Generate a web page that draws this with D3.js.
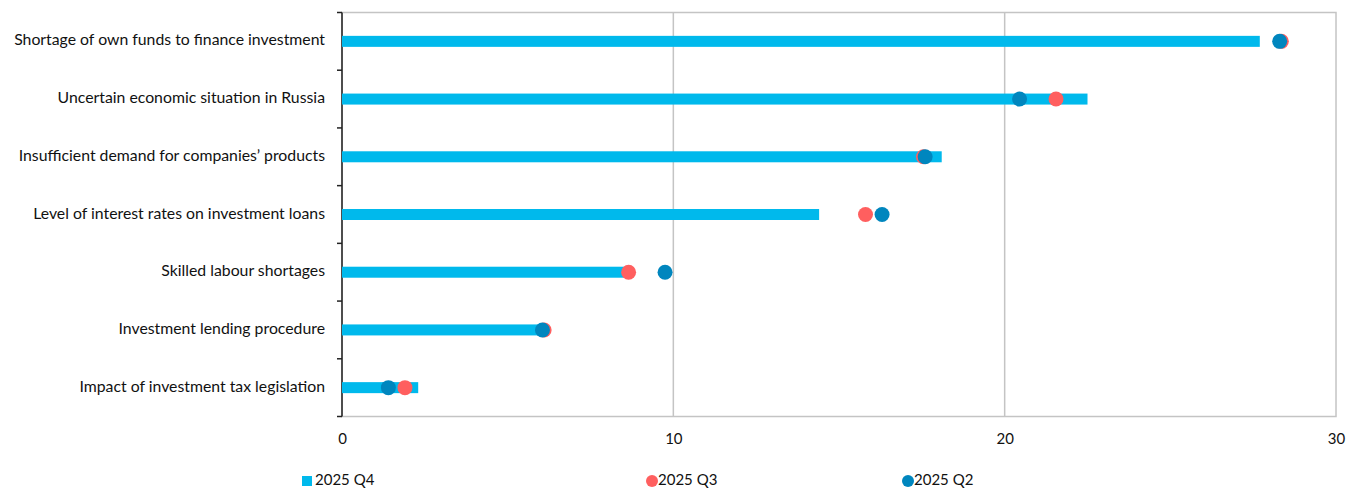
<!DOCTYPE html>
<html>
<head>
<meta charset="utf-8">
<script src="https://cdn.jsdelivr.net/npm/d3@7/dist/d3.min.js"></script>
<style>
  html, body { margin: 0; padding: 0; background: #fff; }
  svg { display: block; font-family: Lato, "Noto Sans", sans-serif; }
</style>
</head>
<body>
<svg id="chart" width="1351" height="495"></svg>
<script>
// Factors limiting investment activity, share of respondents (%)
const categories = [
  "Shortage of own funds to finance investment",
  "Uncertain economic situation in Russia",
  "Insufficient demand for companies\u2019 products",
  "Level of interest rates on investment loans",
  "Skilled labour shortages",
  "Investment lending procedure",
  "Impact of investment tax legislation"
];
const q4 = [27.7, 22.5, 18.1, 14.4, 8.6, 6.2, 2.3];
const q3 = [28.35, 21.55, 17.55, 15.8, 8.65, 6.1, 1.9];
const q2 = [28.3, 20.45, 17.6, 16.3, 9.75, 6.05, 1.4];
const xTicks = [0, 10, 20, 30];

const colors = { q4: "#00B9EC", q3: "#FF5F5F", q2: "#0086BE" };

const svg = d3.select("#chart");
const margin = { left: 342, right: 15, top: 12.5, bottom: 78.5 };
const W = 1351, H = 495;
const x = d3.scaleLinear().domain([0, 30]).range([margin.left, W - margin.right]);
const y = d3.scaleBand().domain(categories).range([margin.top, H - margin.bottom]);

// Plot frame and vertical gridlines
svg.append("rect")
  .attr("x", x(0)).attr("y", margin.top)
  .attr("width", x(30) - x(0)).attr("height", y.range()[1] - margin.top)
  .attr("fill", "none").attr("stroke", "#c4c4c4").attr("stroke-width", 1.5);

svg.append("g").selectAll("line").data(xTicks.slice(1, -1)).join("line")
  .attr("x1", d => x(d)).attr("x2", d => x(d))
  .attr("y1", margin.top).attr("y2", y.range()[1])
  .attr("stroke", "#c4c4c4").attr("stroke-width", 1.5);

// X axis labels
const xAxis = svg.append("g")
  .attr("transform", `translate(0,${y.range()[1]})`)
  .call(d3.axisBottom(x).tickValues(xTicks).tickSize(0).tickPadding(17));
xAxis.select(".domain").remove();
xAxis.selectAll("text").attr("font-size", 15).attr("fill", "#111")
  .attr("font-family", "Lato, 'Noto Sans', sans-serif");

// Y axis with tick marks between categories
const yAxis = svg.append("g").attr("transform", `translate(${x(0)},0)`);
yAxis.append("line")
  .attr("x1", 0).attr("x2", 0).attr("y1", margin.top).attr("y2", y.range()[1])
  .attr("stroke", "#222").attr("stroke-width", 1.5);
const boundaries = categories.map(c => y(c)).concat([y.range()[1]]);
yAxis.selectAll("line.tk").data(boundaries).join("line").attr("class", "tk")
  .attr("x1", -5).attr("x2", 0).attr("y1", d => d).attr("y2", d => d)
  .attr("stroke", "#222").attr("stroke-width", 1.5);
yAxis.selectAll("text").data(categories).join("text")
  .attr("x", -17).attr("y", d => y(d) + y.bandwidth() / 2)
  .attr("text-anchor", "end").attr("dominant-baseline", "middle")
  .attr("font-size", 15.8).attr("fill", "#111")
  .text(d => d);

// 2025 Q4 bars
const barH = 11;
svg.append("g").selectAll("rect").data(categories).join("rect")
  .attr("x", x(0))
  .attr("y", (d, i) => y(d) + y.bandwidth() / 2 - barH / 2)
  .attr("width", (d, i) => x(q4[i]) - x(0))
  .attr("height", barH)
  .attr("fill", colors.q4);

// 2025 Q3 and Q2 markers
const r = 7.5;
[[q3, colors.q3], [q2, colors.q2]].forEach(([vals, col]) => {
  svg.append("g").selectAll("circle").data(categories).join("circle")
    .attr("cx", (d, i) => x(vals[i]))
    .attr("cy", d => y(d) + y.bandwidth() / 2)
    .attr("r", r)
    .attr("fill", col);
});

// Legend
const ly = 481;
const legend = svg.append("g").attr("font-size", 15).attr("fill", "#111");
legend.append("rect").attr("x", 302).attr("y", ly - 5).attr("width", 10).attr("height", 10).attr("fill", colors.q4);
legend.append("text").attr("x", 315).attr("y", ly).attr("dominant-baseline", "middle").text("2025 Q4");
legend.append("circle").attr("cx", 652).attr("cy", ly).attr("r", 6).attr("fill", colors.q3);
legend.append("text").attr("x", 658).attr("y", ly).attr("dominant-baseline", "middle").text("2025 Q3");
legend.append("circle").attr("cx", 908).attr("cy", ly).attr("r", 6).attr("fill", colors.q2);
legend.append("text").attr("x", 914).attr("y", ly).attr("dominant-baseline", "middle").text("2025 Q2");
</script>
</body>
</html>
